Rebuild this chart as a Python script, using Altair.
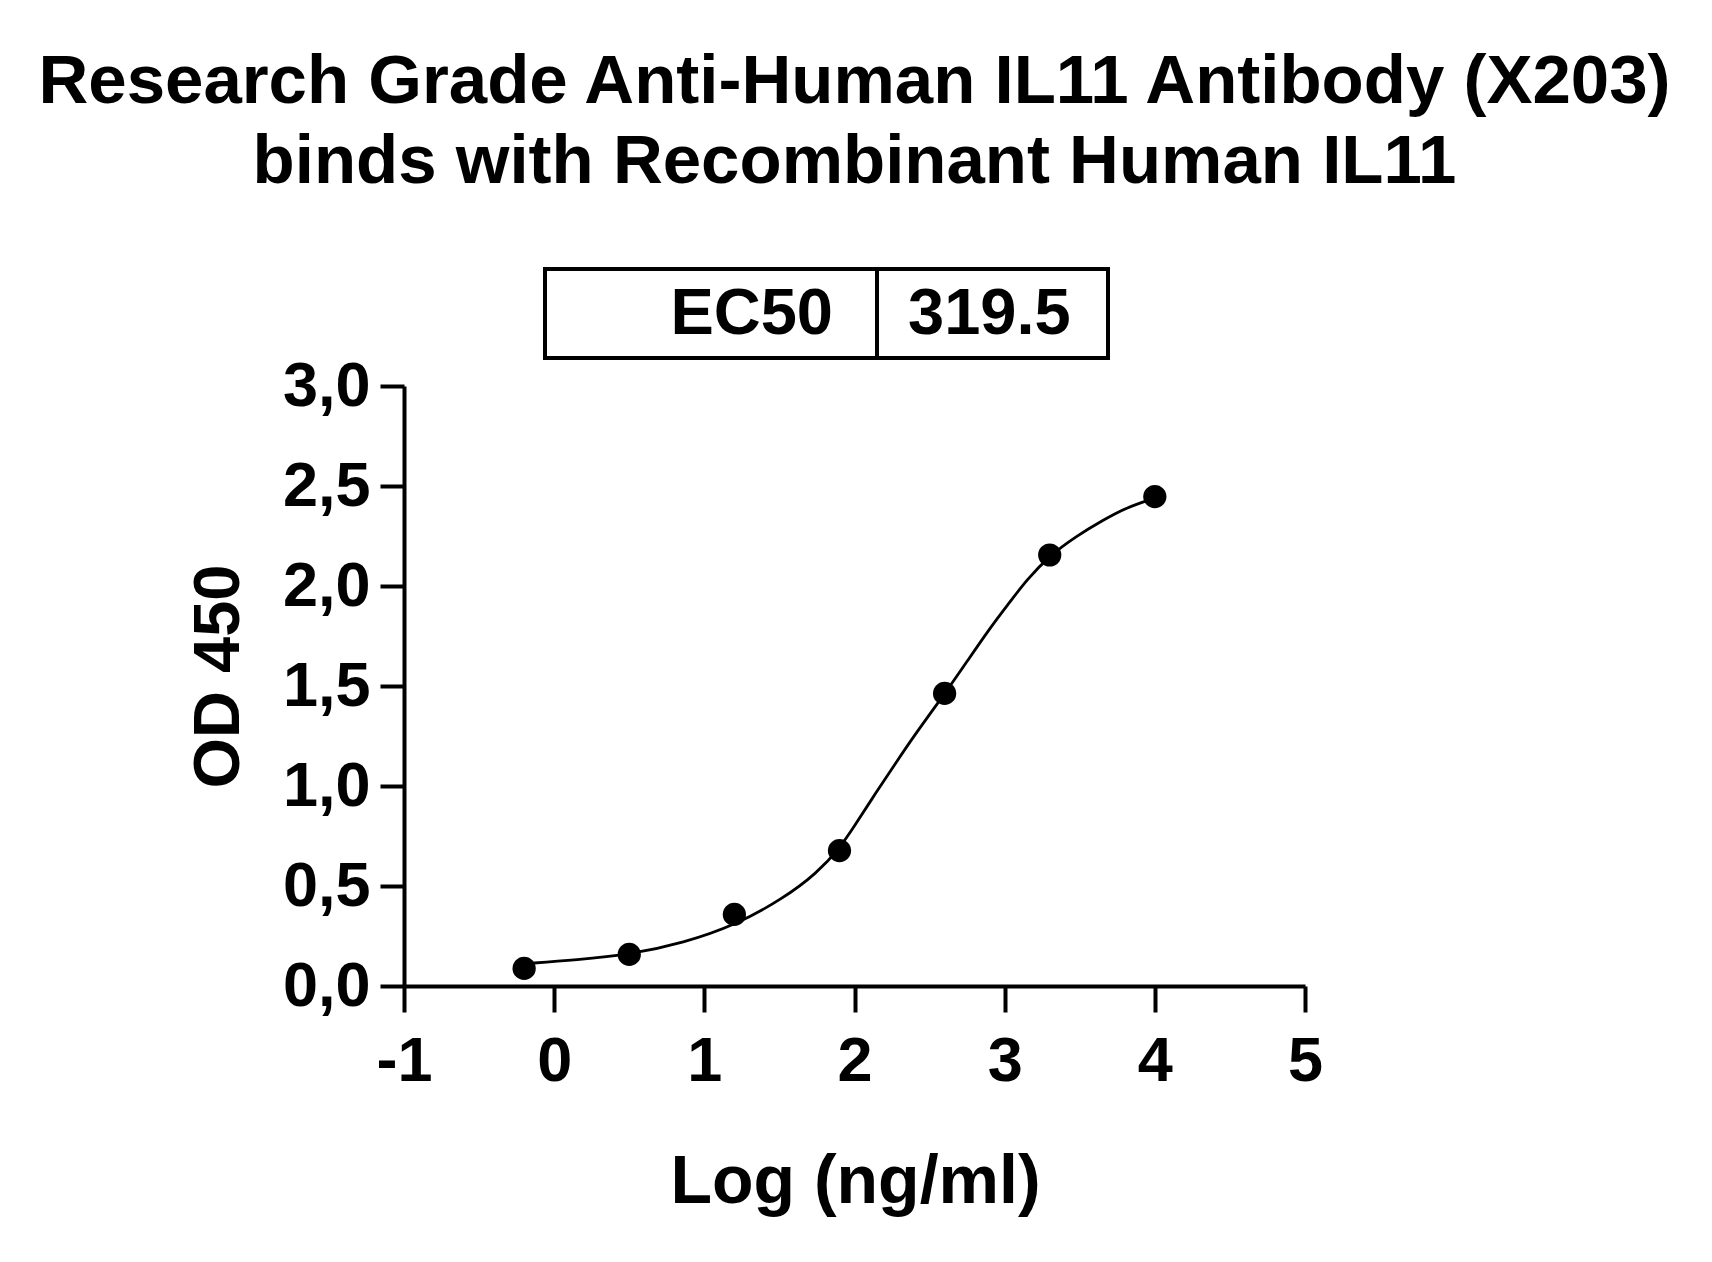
import altair as alt
import pandas as pd

# Measured points (log concentration, OD450)
log_conc = [-0.2, 0.5, 1.2, 1.9, 2.6, 3.3, 4.0]
od450 = [0.088, 0.158, 0.358, 0.677, 1.463, 2.155, 2.447]

# Fitted curve
curve_x = [-0.19, 0.15, 0.51, 0.86, 1.21, 1.526, 1.748, 1.903, 2.0, 2.137, 2.27, 2.414,
           2.603, 2.747, 2.902, 3.035, 3.146, 3.297, 3.479, 3.657, 3.812, 4.0]
curve_y = [0.112, 0.13, 0.158, 0.215, 0.305, 0.438, 0.563, 0.69, 0.80, 0.96, 1.11, 1.27,
           1.463, 1.62, 1.79, 1.92, 2.03, 2.15, 2.25, 2.33, 2.393, 2.44]

# EC50 table
table_labels = ["EC50"]
table_values = ["319.5"]

title_lines = ["Research Grade Anti-Human IL11 Antibody (X203)",
               "binds with Recombinant Human IL11"]

FONT = "Liberation Sans, Arial, sans-serif"

points_df = pd.DataFrame({"x": log_conc, "y": od450})
curve_df = pd.DataFrame({"x": curve_x, "y": curve_y})
table_df = pd.DataFrame({"label": table_labels, "value": table_values})

xscale = alt.Scale(domain=[-1, 5], nice=False, zero=False)
yscale = alt.Scale(domain=[0, 3], nice=False, zero=False)

xaxis = alt.Axis(
    values=[-1, 0, 1, 2, 3, 4, 5],
    labelExpr="datum.value + ''",
    labelFlush=False,
    title="Log (ng/ml)",
    grid=False,
    domainColor="black", domainWidth=4,
    tickColor="black", tickWidth=4, tickSize=26,
    labelFont=FONT, labelFontWeight="bold", labelFontSize=63, labelColor="black",
    labelPadding=18, labelBaseline="top",
    titleFont=FONT, titleFontWeight="bold", titleFontSize=68, titleColor="black",
    titleX=451, titleY=216, titleBaseline="alphabetic", titleAlign="center",
)
yaxis = alt.Axis(
    values=[0, 0.5, 1, 1.5, 2, 2.5, 3],
    labelExpr="replace(format(datum.value, '.1f'), '.', ',')",
    labelFlush=False,
    title="OD 450",
    grid=False,
    domainColor="black", domainWidth=4,
    tickColor="black", tickWidth=4, tickSize=24,
    labelFont=FONT, labelFontWeight="bold", labelFontSize=63, labelColor="black",
    labelPadding=10,
    titleFont=FONT, titleFontWeight="bold", titleFontSize=65, titleColor="black",
    titleX=-186, titleY=290, titleAngle=270, titleBaseline="middle", titleAlign="center",
)

curve = alt.Chart(curve_df).mark_line(
    color="black", strokeWidth=2.8, interpolate="basis", clip=False
).encode(
    x=alt.X("x:Q", scale=xscale, axis=xaxis),
    y=alt.Y("y:Q", scale=yscale, axis=yaxis),
)

points = alt.Chart(points_df).mark_circle(
    color="black", size=540, opacity=1
).encode(
    x=alt.X("x:Q", scale=xscale),
    y=alt.Y("y:Q", scale=yscale),
)

box = alt.Chart(table_df).mark_rect(
    fill="white", stroke="black", strokeWidth=4
).encode(
    x=alt.value(141), x2=alt.value(704), y=alt.value(-117), y2=alt.value(-28)
)

divider = alt.Chart(table_df).mark_rule(color="black", strokeWidth=4).encode(
    x=alt.value(473), y=alt.value(-117), y2=alt.value(-28)
)

label_text = alt.Chart(table_df).mark_text(
    font=FONT, fontWeight="bold", fontSize=65, color="black",
    align="right", baseline="alphabetic"
).encode(
    x=alt.value(429), y=alt.value(-52), text="label:N"
)

value_text = alt.Chart(table_df).mark_text(
    font=FONT, fontWeight="bold", fontSize=65, color="black",
    align="left", baseline="alphabetic"
).encode(
    x=alt.value(504), y=alt.value(-52), text="value:N"
)

chart = alt.layer(curve, points, box, divider, label_text, value_text).properties(
    width=901,
    height=600,
    background="white",
    title=alt.TitleParams(
        text=title_lines,
        font=FONT, fontWeight="bold", fontSize=69, color="black",
        anchor="middle", frame="group", lineHeight=80, offset=70,
    ),
    autosize=alt.AutoSizeParams(type="none"),
    padding={"left": 396, "top": 378, "right": 380, "bottom": 250},
).configure_view(stroke="transparent", strokeWidth=0)

chart.save("out.html", embed_options={"renderer": "svg", "actions": False})
